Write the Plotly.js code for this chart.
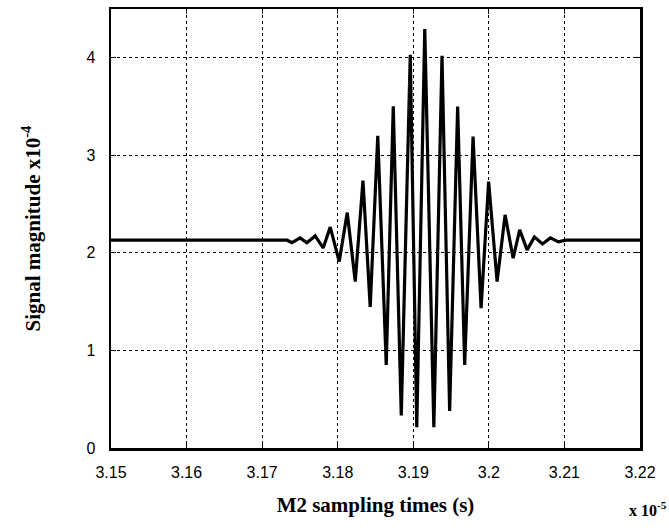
<!DOCTYPE html>
<html>
<head>
<meta charset="utf-8">
<script src="https://cdn.plot.ly/plotly-3.0.1.min.js"></script>
<style>html,body{margin:0;padding:0;background:#fff;}#chart{width:669px;height:531px;}</style>
</head>
<body>
<div id="chart"></div>
<script>
// sampling times, units of 1e-5 s
var timeValues = [3.1500, 3.17331, 3.17393, 3.17503, 3.17592, 3.17702, 3.17808, 3.17901, 3.18020, 3.18126,
  3.18232, 3.18334, 3.18430, 3.18530, 3.18642, 3.18735, 3.18841, 3.18960, 3.19046, 3.19152,
  3.19272, 3.19380, 3.19481, 3.19587, 3.19680, 3.19791, 3.19897, 3.19997, 3.20109, 3.20215,
  3.20321, 3.20408, 3.20506, 3.20603, 3.20709, 3.20815, 3.20921, 3.21013, 3.2200];
// signal magnitude, units of 1e-4
var signalValues = [2.13, 2.13, 2.105, 2.154, 2.103, 2.174, 2.051, 2.264, 1.911, 2.413,
  1.706, 2.742, 1.446, 3.200, 0.851, 3.503, 0.333, 4.031, 0.212, 4.294,
  0.212, 4.02, 0.38, 3.50, 0.851, 3.193, 1.433, 2.731, 1.706, 2.390,
  1.946, 2.236, 2.031, 2.164, 2.092, 2.154, 2.113, 2.13, 2.13];
var xTickVals = [3.15, 3.16, 3.17, 3.18, 3.19, 3.20, 3.21, 3.22];
var xTickText = ["3.15", "3.16", "3.17", "3.18", "3.19", "3.2", "3.21", "3.22"];
var yTickVals = [0, 1, 2, 3, 4];
var yTickText = ["0", "1", "2", "3", "4"];

var trace = {
  x: timeValues, y: signalValues, type: 'scatter', mode: 'lines',
  line: {color: '#000', width: 3.2}, hoverinfo: 'skip'
};
var serifBold = {family: 'Liberation Serif, Times New Roman, serif', size: 21, color: '#000', weight: 'bold'};
var axisCommon = {
  showline: true, linecolor: '#000', linewidth: 2.5, mirror: 'allticks',
  ticks: 'inside', ticklen: 5, tickcolor: '#000', tickwidth: 1,
  showgrid: true, gridcolor: '#000', gridwidth: 1, griddash: 'dot',
  zeroline: false, tickfont: {family: 'Liberation Sans, Arial, sans-serif', size: 16, color: '#000'}
};
var layout = {
  width: 669, height: 531,
  margin: {l: 111, r: 29, t: 9, b: 83},
  paper_bgcolor: '#fff', plot_bgcolor: '#fff',
  showlegend: false,
  xaxis: Object.assign({}, axisCommon, {
    range: [3.15, 3.22], tickvals: xTickVals, ticktext: xTickText,
    ticklabelstandoff: 8,
    title: {text: 'M2 sampling times (s)', standoff: 18, font: serifBold}
  }),
  yaxis: Object.assign({}, axisCommon, {
    range: [0, 4.5], tickvals: yTickVals, ticktext: yTickText,
    ticklabelstandoff: 10,
    title: {text: 'Signal magnitude x10<sup>-4</sup>', standoff: 40, font: serifBold}
  }),
  annotations: [{
    text: 'x 10<sup>-5</sup>', xref: 'paper', yref: 'paper', x: 1.015, y: -0.14,
    xanchor: 'center', yanchor: 'middle', showarrow: false,
    font: {family: 'Liberation Serif, Times New Roman, serif', size: 16, color: '#000', weight: 'bold'}
  }]
};
Plotly.newPlot('chart', [trace], layout, {displayModeBar: false, staticPlot: true});
</script>
</body>
</html>
